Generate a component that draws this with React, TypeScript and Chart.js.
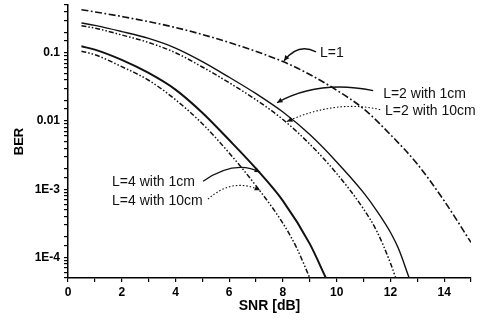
import React, { useEffect, useRef } from "react";
import { Chart, registerables } from "chart.js";
Chart.register(...registerables);

// ---- data ----
const snrL1 = [0.5, 2, 4, 6, 8, 9, 10, 11, 12, 13, 14, 15];
const berL1 = [0.427, 0.339, 0.234, 0.141, 0.0741, 0.0479, 0.0282, 0.0151, 0.00631, 0.00234, 0.000676, 0.000166];

const snrL2cm1 = [0.5, 1, 2, 3, 4, 5, 6, 7, 8, 9, 10, 11, 11.5, 12, 12.3, 12.7];
const berL2cm1 = [0.272, 0.251, 0.204, 0.162, 0.117, 0.0741, 0.0437, 0.0251, 0.0135, 0.00631, 0.00251, 0.000891, 0.000479, 0.000234, 0.000135, 0.00005];

const snrL2cm10 = [0.5, 1, 2, 3, 4, 5, 6, 7, 8, 9, 10, 11, 11.5, 12, 12.2];
const berL2cm10 = [0.248, 0.229, 0.182, 0.141, 0.1, 0.0617, 0.0363, 0.0204, 0.0105, 0.00457, 0.0017, 0.000513, 0.00024, 0.000083, 0.00005];

const snrL4cm1 = [0.5, 1, 2, 3, 4, 5, 6, 7, 8, 9, 9.6];
const berL4cm1 = [0.124, 0.111, 0.0785, 0.0505, 0.0288, 0.0132, 0.00525, 0.002, 0.000676, 0.000158, 0.00005];

const snrL4cm10 = [0.5, 1, 2, 3, 4, 5, 6, 7, 8, 8.5, 9];
const berL4cm10 = [0.105, 0.0935, 0.0625, 0.0395, 0.0205, 0.00912, 0.00339, 0.00112, 0.000316, 0.000141, 0.00005];

const yTickLabels: [number, string][] = [
  [0.1, "0.1"],
  [0.01, "0.01"],
  [0.001, "1E-3"],
  [0.0001, "1E-4"],
];
const xTickLabels = [0, 2, 4, 6, 8, 10, 12, 14];

const seriesNames = ["L=1", "L=2 with 1cm", "L=2 with 10cm", "L=4 with 1cm", "L=4 with 10cm"];

// annotation leaders, in data coordinates
const annotations = [
  { text: "L=1", tx: 9.38, ty: 0.097, sx: 9.23, sy: 0.103, cx: 8.56, cy: 0.14, ex: 8.04, ey: 0.076, dotted: false },
  { text: "L=2 with 1cm", tx: 11.73, ty: 0.0244, sx: 11.36, sy: 0.0279, cx: 9.31, cy: 0.0404, ex: 7.78, ey: 0.0185, dotted: false },
  { text: "L=2 with 10cm", tx: 11.8, ty: 0.01377, sx: 11.62, sy: 0.0147, cx: 9.94, cy: 0.0206, ex: 8.15, ey: 0.0098, dotted: true },
  { text: "L=4 with 1cm", tx: 1.64, ty: 0.00126, sx: 5.03, sy: 0.00131, cx: 6.22, cy: 0.00274, ex: 7.15, ey: 0.00177, dotted: false },
  { text: "L=4 with 10cm", tx: 1.64, ty: 0.000668, sx: 5.21, sy: 0.000714, cx: 6.11, cy: 0.0015, ex: 7.15, ey: 0.000966, dotted: true },
];

const zip = (xs: number[], ys: number[]) => xs.map((x, i) => ({ x, y: ys[i] }));

const FONT = '"Liberation Sans", Arial, sans-serif';

const annotationPlugin = {
  id: "leaders",
  afterDraw(chart: any) {
    const { ctx, scales } = chart;
    const xs = scales.x;
    const ys = scales.y;
    ctx.save();
    for (const a of annotations) {
      const sx = xs.getPixelForValue(a.sx), sy = ys.getPixelForValue(a.sy);
      const cx = xs.getPixelForValue(a.cx), cy = ys.getPixelForValue(a.cy);
      const ex = xs.getPixelForValue(a.ex), ey = ys.getPixelForValue(a.ey);
      ctx.strokeStyle = "#111";
      ctx.lineWidth = a.dotted ? 1.1 : 1.3;
      ctx.setLineDash(a.dotted ? [1.5, 2] : []);
      ctx.beginPath();
      ctx.moveTo(sx, sy);
      ctx.quadraticCurveTo(cx, cy, ex, ey);
      ctx.stroke();
      ctx.setLineDash([]);
      const ang = Math.atan2(ey - cy, ex - cx);
      const L = 6, W = 0.45;
      ctx.fillStyle = "#111";
      ctx.beginPath();
      ctx.moveTo(ex, ey);
      ctx.lineTo(ex - L * Math.cos(ang - W), ey - L * Math.sin(ang - W));
      ctx.lineTo(ex - L * Math.cos(ang + W), ey - L * Math.sin(ang + W));
      ctx.closePath();
      ctx.fill();
      ctx.font = `14px ${FONT}`;
      ctx.textAlign = "left";
      ctx.textBaseline = "middle";
      ctx.fillText(a.text, xs.getPixelForValue(a.tx), ys.getPixelForValue(a.ty));
    }
    ctx.restore();
  },
};

export default function App() {
  const ref = useRef<HTMLCanvasElement>(null);
  useEffect(() => {
    if (!ref.current) return;
    const common = { pointRadius: 0, borderColor: "#111", fill: false, cubicInterpolationMode: "monotone" as const };
    const dashDotDot = [5, 2, 1.5, 2, 1.5, 2];
    const chart = new Chart(ref.current, {
      type: "line",
      data: {
        datasets: [
          { ...common, label: seriesNames[0], data: zip(snrL1, berL1), borderWidth: 1.6, borderDash: [7, 2.5, 1.8, 2.5] },
          { ...common, label: seriesNames[1], data: zip(snrL2cm1, berL2cm1), borderWidth: 1.4 },
          { ...common, label: seriesNames[2], data: zip(snrL2cm10, berL2cm10), borderWidth: 1.5, borderDash: dashDotDot },
          { ...common, label: seriesNames[3], data: zip(snrL4cm1, berL4cm1), borderWidth: 2 },
          { ...common, label: seriesNames[4], data: zip(snrL4cm10, berL4cm10), borderWidth: 1.5, borderDash: dashDotDot },
        ],
      },
      options: {
        responsive: false,
        animation: false,
        layout: { padding: { top: 5, right: 18, left: 0, bottom: 0 } },
        plugins: { legend: { display: false }, tooltip: { enabled: false } },
        scales: {
          x: {
            type: "linear",
            min: 0,
            max: 15,
            border: { display: true, color: "#000", width: 1.5 },
            grid: { drawOnChartArea: false, drawTicks: true, tickLength: 4, color: "#000", lineWidth: 1.2 },
            ticks: {
              stepSize: 1,
              autoSkip: false,
              maxRotation: 0,
              padding: 3,
              color: "#000",
              font: { family: FONT, size: 12, weight: "bold" },
              callback: (v: any) => (xTickLabels.includes(Number(v)) ? String(v) : ""),
            },
            title: {
              display: true,
              text: "SNR [dB]",
              color: "#000",
              font: { family: FONT, size: 14, weight: "bold" },
              padding: { top: 0, bottom: 11 },
            },
            afterFit: (s: any) => { s.height = 48; s.paddingLeft = 0; s.paddingRight = 0; },
          },
          y: {
            type: "logarithmic",
            min: 0.00005,
            max: 0.5,
            border: { display: true, color: "#000", width: 1.5 },
            grid: { drawOnChartArea: false, drawTicks: true, tickLength: 4, color: "#000", lineWidth: 1.2 },
            ticks: {
              autoSkip: false,
              padding: 4,
              color: "#000",
              font: { family: FONT, size: 12, weight: "bold" },
              callback: (v: any) => {
                const n = Number(v);
                const hit = yTickLabels.find(([t]) => Math.abs(n - t) / t < 1e-6);
                return hit ? hit[1] : "";
              },
            },
            title: {
              display: true,
              text: "BER",
              color: "#000",
              font: { family: FONT, size: 13, weight: "bold" },
              padding: { top: 12, bottom: 0 },
            },
            afterFit: (s: any) => { s.width = 68; s.paddingTop = 0; s.paddingBottom = 0; },
          },
        },
      },
      plugins: [annotationPlugin],
    } as any);
    return () => chart.destroy();
  }, []);
  return (
    <div style={{ position: "fixed", left: 0, top: 0, width: 489, height: 326, background: "#fff" }}>
      <canvas ref={ref} width={489} height={326} style={{ display: "block" }} />
    </div>
  );
}
